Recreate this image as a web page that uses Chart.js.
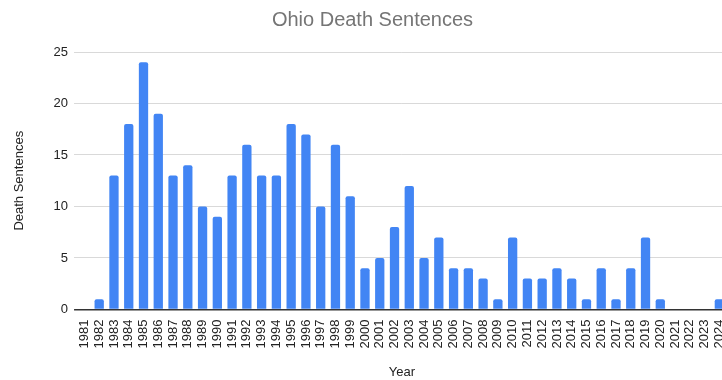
<!DOCTYPE html>
<html>
<head>
<meta charset="utf-8">
<script src="https://cdn.jsdelivr.net/npm/chart.js@4"></script>
<style>
  html, body { margin: 0; padding: 0; background: #fff; overflow: hidden; }
  #wrap { width: 737px; height: 380px; position: relative; }
</style>
</head>
<body>
<div id="wrap"><canvas id="chart"></canvas></div>
<script>
const years = ['1981', '1982', '1983', '1984', '1985', '1986', '1987', '1988', '1989', '1990',
  '1991', '1992', '1993', '1994', '1995', '1996', '1997', '1998', '1999', '2000',
  '2001', '2002', '2003', '2004', '2005', '2006', '2007', '2008', '2009', '2010',
  '2011', '2012', '2013', '2014', '2015', '2016', '2017', '2018', '2019', '2020',
  '2021', '2022', '2023', '2024'];
const sentences = [0, 1, 13, 18, 24, 19, 13, 14, 10, 9,
  13, 16, 13, 13, 18, 17, 10, 16, 11, 4,
  5, 8, 12, 5, 7, 4, 4, 3, 1, 7,
  3, 3, 4, 3, 1, 4, 1, 4, 7, 1,
  0, 0, 0, 1];
const yTicks = [0, 5, 10, 15, 20, 25];

const font = "'Liberation Sans', Arial, sans-serif";
const ctx = document.getElementById('chart').getContext('2d');

new Chart(ctx, {
  type: 'bar',
  data: {
    labels: years,
    datasets: [{
      label: 'Death Sentences',
      data: sentences,
      backgroundColor: '#4285F4',
      borderRadius: 2,
      borderSkipped: 'start',
      barPercentage: 0.63,
      categoryPercentage: 1,
    }],
  },
  options: {
    responsive: true,
    maintainAspectRatio: false,
    animation: false,
    layout: { padding: { top: 6, left: 12, right: 4, bottom: 0 } },
    plugins: {
      legend: { display: false },
      tooltip: { enabled: false },
      title: {
        display: true,
        text: 'Ohio Death Sentences',
        color: '#757575',
        font: { family: font, size: 20, weight: 'normal' },
        padding: { top: 2, bottom: 20 },
      },
    },
    scales: {
      x: {
        grid: { display: false },
        border: { display: false },
        ticks: {
          color: '#222',
          font: { family: font, size: 13 },
          minRotation: 90,
          maxRotation: 90,
          autoSkip: false,
          padding: 2,
        },
        title: {
          display: true,
          text: 'Year',
          color: '#222',
          font: { family: font, size: 13 },
          padding: { top: 14, bottom: 0 },
        },
      },
      y: {
        min: 0,
        max: 25,
        afterBuildTicks: (axis) => { axis.ticks = yTicks.map(v => ({ value: v })); },
        border: { display: false },
        grid: {
          color: (c) => (c.tick && c.tick.value === 0 ? '#333' : '#d9d9d9'),
          lineWidth: (c) => (c.tick && c.tick.value === 0 ? 1.5 : 1),
          tickLength: 3,
        },
        ticks: {
          color: '#222',
          font: { family: font, size: 13 },
          padding: 6,
        },
        title: {
          display: true,
          text: 'Death Sentences',
          color: '#222',
          font: { family: font, size: 13 },
          padding: { top: 0, bottom: 20 },
        },
      },
    },
  },
});
</script>
</body>
</html>
